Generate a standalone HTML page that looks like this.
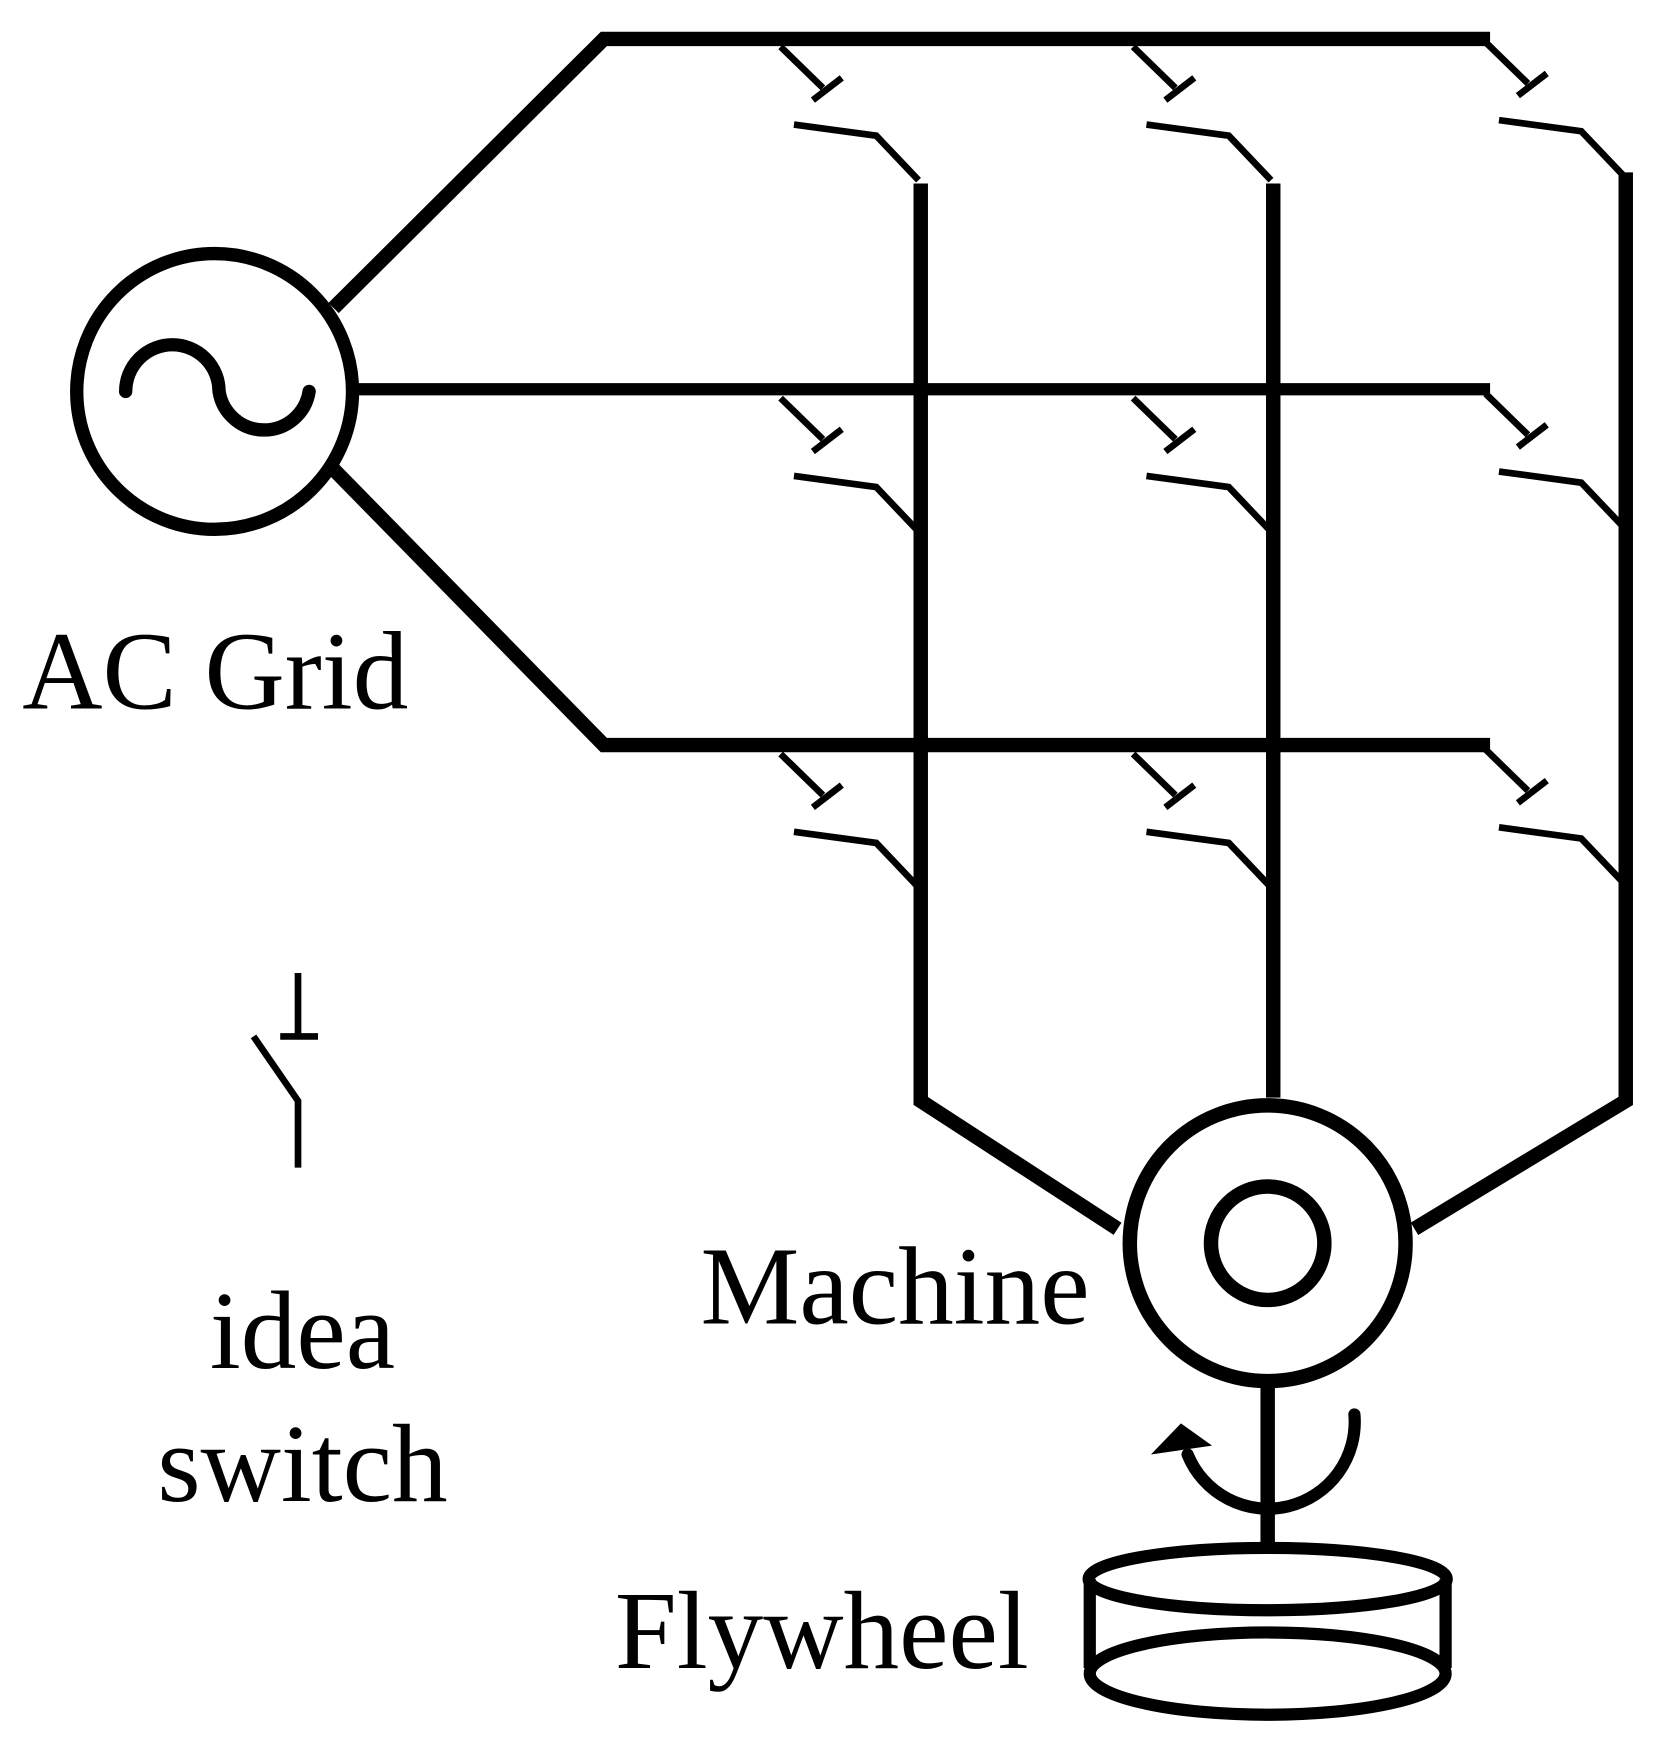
<!DOCTYPE html>
<html><head><style>html,body{margin:0;padding:0;background:#fff}svg{display:block}</style></head>
<body>
<svg width="1668" height="1737" viewBox="0 0 1500 1562" xmlns="http://www.w3.org/2000/svg">
<g fill="none" stroke="#000" stroke-linecap="butt" stroke-linejoin="miter">
<circle cx="193" cy="352" r="124" stroke-width="12"/>
<path d="M113,352 A42,42 0 0 1 197,352 A41,41 0 0 0 278,352" stroke-width="12" stroke-linecap="round"/>
<polyline points="300,277 543,35 1340,35" stroke-width="13"/>
<line x1="322" y1="350" x2="1340" y2="350" stroke-width="11"/>
<polyline points="300,422 543,670 1340,670" stroke-width="13"/>
<polyline points="828,165 828,990 1005,1105" stroke-width="13"/>
<line x1="1145" y1="165" x2="1145" y2="987" stroke-width="13"/>
<polyline points="1462,155 1462,990 1272,1105" stroke-width="13"/>
<circle cx="1140" cy="1118" r="124" stroke-width="13"/>
<circle cx="1140" cy="1118" r="51" stroke-width="13"/>
<line x1="1140" y1="1243" x2="1140" y2="1392" stroke-width="13"/>
<ellipse cx="1140" cy="1420" rx="161" ry="28" stroke-width="11"/>
<path d="M980,1420 L980,1500 M1300,1420 L1300,1500" stroke-width="11"/>
<ellipse cx="1140" cy="1505" rx="160" ry="37" stroke-width="11"/>
<path d="M1218,1272 A78,78 0 0 1 1068,1308" stroke-width="11" stroke-linecap="round"/>
</g>
<polygon points="1035,1308 1062,1280 1090,1300" fill="#000"/>
<g fill="none" stroke="#000" stroke-width="6">
<g id="sw">
<line x1="-126" y1="8" x2="-88" y2="45"/>
<line x1="-97" y1="56" x2="-71" y2="36"/>
<polyline points="-114,78 -40,88 -2,128"/>
</g>
</g>
<g fill="none" stroke="#000" stroke-width="6">
<use href="#sw" transform="translate(828,34)"/>
<use href="#sw" transform="translate(1145,34)"/>
<use href="#sw" transform="translate(1462,30)"/>
<use href="#sw" transform="translate(828,350)"/>
<use href="#sw" transform="translate(1145,350)"/>
<use href="#sw" transform="translate(1462,346)"/>
<use href="#sw" transform="translate(828,670)"/>
<use href="#sw" transform="translate(1145,670)"/>
<use href="#sw" transform="translate(1462,666)"/>
<path d="M268,875 L268,932 M252,932 L286,932 M228,932 L268,990 L268,1050"/>
</g>
<g font-family="Liberation Serif, serif" font-size="100" fill="#000">
<text x="20" y="637">AC Grid</text>
<text x="630" y="1190">Machine</text>
<text x="272" y="1230" text-anchor="middle">idea</text>
<text x="272" y="1350" text-anchor="middle">switch</text>
<text x="553" y="1500">Flywheel</text>
</g>
</svg>
</body></html>
